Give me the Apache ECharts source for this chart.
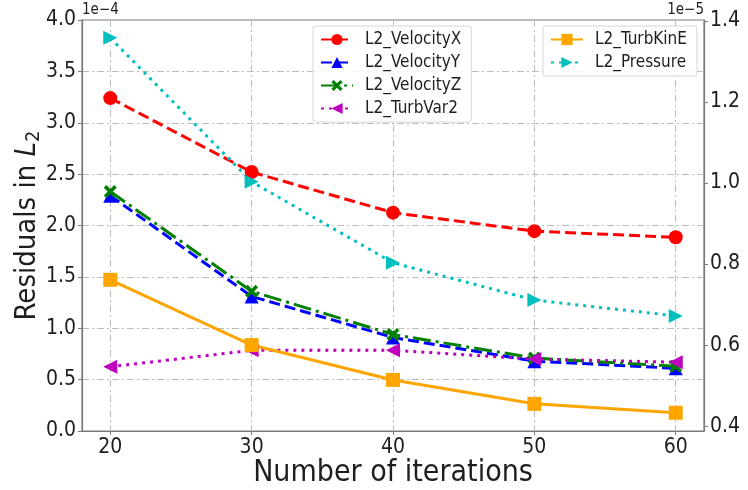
<!DOCTYPE html>
<html>
<head>
<meta charset="utf-8">
<script src="https://cdn.jsdelivr.net/npm/echarts@6/dist/echarts.min.js"></script>
<style>
  html, body { margin: 0; padding: 0; background: #fff; }
  #chart { width: 748px; height: 490px; }
</style>
</head>
<body>
<div id="chart"></div>
<script>
// Iteration counts on the x axis
var iterations = [20, 30, 40, 50, 60];

// Left axis series (scale 1e-4)
var velocityX = [3.24, 2.52, 2.125, 1.945, 1.885];
var velocityY = [2.29, 1.31, 0.91, 0.68, 0.61];
var velocityZ = [2.33, 1.36, 0.94, 0.71, 0.63];
var turbVar2  = [0.625, 0.785, 0.785, 0.70, 0.67];

// Right axis series (scale 1e-5)
var turbKinE  = [0.761, 0.600, 0.514, 0.455, 0.433];
var pressure  = [1.358, 1.003, 0.803, 0.711, 0.672];

// Tick labels
var xTicks      = [20, 30, 40, 50, 60];
var leftTicks   = [0, 0.5, 1, 1.5, 2, 2.5, 3, 3.5, 4];
var rightTicks  = [0.4, 0.6, 0.8, 1.0, 1.2, 1.4];

var FONT = '"DejaVu Sans Condensed", "DejaVu Sans", sans-serif';
var TEXT = '#1e1e1e';
var AXIS = '#7a7a7a';
var xSymbol = 'path://M2,0 L5,3 L8,0 L10,2 L7,5 L10,8 L8,10 L5,7 L2,10 L0,8 L3,5 L0,2 Z';

function pairs(vals) {
  return iterations.map(function (x, i) { return [x, vals[i]]; });
}

function lineSeries(name, vals, color, dash, symbol, size, rotate, axisIdx) {
  return {
    name: name,
    type: 'line',
    yAxisIndex: axisIdx,
    data: pairs(vals),
    symbol: symbol,
    symbolSize: size,
    symbolRotate: rotate,
    showAllSymbol: true,
    lineStyle: { color: color, width: 3, type: dash },
    itemStyle: { color: color, borderWidth: 0 },
    emphasis: { disabled: true },
    animation: false
  };
}

var gridLine = { show: true, lineStyle: { color: '#bdbdbd', width: 1, type: [7, 3, 2, 3] } };

function legendBox(names, left) {
  return {
    data: names,
    orient: 'vertical', left: left, top: 26,
    itemWidth: 32, itemHeight: 14, itemGap: 6,
    padding: [5, 10, 5, 7],
    backgroundColor: 'rgba(255,255,255,0.85)', borderColor: '#d6d6d6', borderWidth: 1, borderRadius: 3,
    textStyle: { fontSize: 17, color: TEXT, fontFamily: FONT, padding: [0, 0, 0, 7] },
    selectedMode: false
  };
}

var chart = echarts.init(document.getElementById('chart'), null, { renderer: 'canvas' });
chart.setOption({
  animation: false,
  textStyle: { fontFamily: FONT },
  grid: {
    left: 82, right: 44, top: 20, bottom: 59,
    show: true, borderColor: AXIS, borderWidth: 1.2,
    containLabel: false, outerBoundsMode: 'none'
  },
  xAxis: {
    type: 'value', min: 18, max: 62,
    axisLine: { show: true, lineStyle: { color: AXIS, width: 1.2 } },
    axisTick: { show: true, inside: false, length: 4, customValues: xTicks, lineStyle: { color: AXIS } },
    axisLabel: { customValues: xTicks, fontSize: 21, color: TEXT, margin: 6, fontFamily: FONT },
    splitLine: gridLine,
    name: 'Number of iterations',
    nameLocation: 'middle',
    nameMoveOverlap: false,
    nameGap: 27,
    nameTextStyle: { fontSize: 30, color: TEXT, fontFamily: FONT }
  },
  yAxis: [
    {
      type: 'value', min: 0, max: 4, interval: 0.5, position: 'left',
      axisLine: { show: true, lineStyle: { color: AXIS, width: 1.2 } },
      axisTick: { show: true, inside: false, length: 4, lineStyle: { color: AXIS } },
      axisLabel: { fontSize: 21, color: TEXT, margin: 6, fontFamily: FONT,
        formatter: function (v) { return v.toFixed(1); } },
      splitLine: gridLine,
      name: '{a|Residuals in }{b|L}{c|2}',
      nameLocation: 'middle',
      nameMoveOverlap: false,
      nameRotate: 90,
      nameGap: 38,
      nameTextStyle: {
        color: TEXT, fontFamily: FONT,
        rich: {
          a: { fontSize: 29, color: TEXT, fontFamily: FONT, lineHeight: 34 },
          b: { fontSize: 29, color: TEXT, fontFamily: FONT, fontStyle: 'italic', lineHeight: 34 },
          c: { fontSize: 20, color: TEXT, fontFamily: FONT, lineHeight: 34, verticalAlign: 'bottom', padding: [10, 0, 0, 0] }
        }
      }
    },
    {
      type: 'value', min: 0.388, max: 1.402, position: 'right',
      axisLine: { show: true, lineStyle: { color: AXIS, width: 1.2 } },
      axisTick: { show: true, inside: false, length: 4, customValues: rightTicks, lineStyle: { color: AXIS } },
      axisLabel: { customValues: rightTicks, fontSize: 21, color: TEXT, margin: 6, fontFamily: FONT,
        formatter: function (v) { return v.toFixed(1); } },
      splitLine: { show: false }
    }
  ],
  legend: [
    legendBox(['L2_VelocityX', 'L2_VelocityY', 'L2_VelocityZ', 'L2_TurbVar2'], 313),
    legendBox(['L2_TurbKinE', 'L2_Pressure'], 543)
  ],
  graphic: [
    { type: 'text', left: 82, top: 3, style: { text: '1e\u22124', fontSize: 15, fill: TEXT, fontFamily: FONT } },
    { type: 'text', right: 44, top: 3, style: { text: '1e\u22125', fontSize: 15, fill: TEXT, fontFamily: FONT } }
  ],
  series: [
    lineSeries('L2_VelocityX', velocityX, '#ff0000', [11, 5], 'circle', 14, 0, 0),
    lineSeries('L2_VelocityY', velocityY, '#0000ff', [11, 5], 'triangle', 14, 0, 0),
    lineSeries('L2_VelocityZ', velocityZ, '#008000', [18, 5, 3, 5], xSymbol, 13, 0, 0),
    lineSeries('L2_TurbVar2', turbVar2, '#bf00bf', [3, 5], 'triangle', 14, 90, 0),
    lineSeries('L2_TurbKinE', turbKinE, '#ffa500', 'solid', 'rect', 14, 0, 1),
    lineSeries('L2_Pressure', pressure, '#00bfbf', [3, 5], 'triangle', 14, -90, 1)
  ]
});
</script>
</body>
</html>
